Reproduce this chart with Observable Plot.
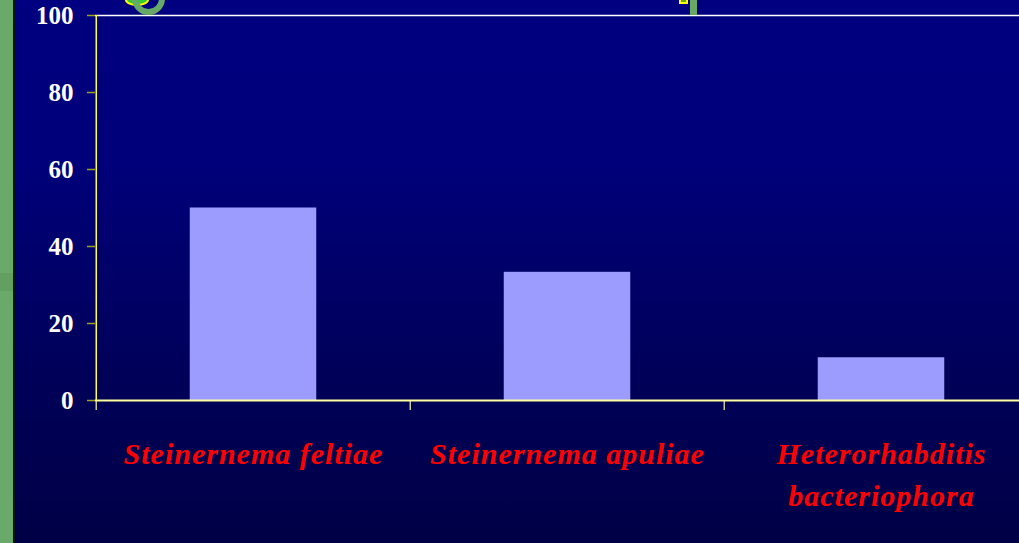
<!DOCTYPE html>
<html>
<head>
<meta charset="utf-8">
<script src="https://cdn.jsdelivr.net/npm/d3@7"></script>
<script src="https://cdn.jsdelivr.net/npm/@observablehq/plot@0.6"></script>
<style>
  html, body { margin: 0; padding: 0; }
  #slide {
    position: relative;
    width: 1019px;
    height: 543px;
    overflow: hidden;
    background: linear-gradient(to bottom, #000080 0%, #00007a 30%, #000058 70%, #000046 100%);
  }
  #strip { position: absolute; left: 0; top: 0; width: 13px; height: 543px; background: #69a969; border-right: 2px solid #0a1a0a; }
  #strip .band { position: absolute; left: 0; top: 273px; width: 13px; height: 18px; background: #62a062; }
  .deco { position: absolute; }
  #chart svg { display: block; background: transparent; }
  #chart svg text { font-family: 'Liberation Serif', 'Times New Roman', serif; }
  #chart svg g[aria-label="x-axis tick label"] text { letter-spacing: 1px; }
</style>
</head>
<body>
<div id="slide">
  <div id="chart"></div>
  <div id="strip"><div class="band"></div></div>
  <!-- fragments of the slide heading above the chart -->
  <div class="deco" style="left:125px;top:-6px;width:20px;height:8px;border-radius:50%;background:#33cc33;border:2px solid #ffff00;"></div>
  <div class="deco" style="left:132px;top:-18px;width:21px;height:21px;border-radius:50%;border:6px solid #66aa66;"></div>
  <div class="deco" style="left:690px;top:0;width:7px;height:15px;background:#66aa66;"></div>
  <div class="deco" style="left:679px;top:-4px;width:5px;height:4px;background:#66aa00;border:2px solid #ffff00;"></div>
</div>
<script>
// Share of infected larvae per nematode species (%)
const species = ["Steinernema feltiae", "Steinernema apuliae", "Heterorhabditis bacteriophora"];
const speciesLines = ["Steinernema feltiae", "Steinernema apuliae", "Heterorhabditis\nbacteriophora"];
const values = [50, 33.3, 11.1];
const yTicks = [0, 20, 40, 60, 80, 100];

const data = species.map((s, i) => ({species: s, value: values[i]}));
const lineLabel = new Map(species.map((s, i) => [s, speciesLines[i]]));

const xRange = [95, 1038.5];
const step = (xRange[1] - xRange[0]) / species.length;
const barWidth = 127;
const inset = (step - barWidth) / 2;

const serif = "'Liberation Serif', 'Times New Roman', serif";

const chart = Plot.plot({
  width: 1019,
  height: 543,
  marginTop: 15,
  marginBottom: 143,
  marginLeft: 95,
  marginRight: 0,
  style: {background: "transparent", overflow: "visible", fontFamily: serif},
  x: {type: "band", domain: species, range: xRange, padding: 0},
  y: {domain: [0, 100], range: [400, 15]},
  marks: [
    // top border of the plot area
    Plot.ruleY([100], {stroke: "#ffffff", strokeWidth: 1.5}),
    Plot.barY(data, {x: "species", y: "value", fill: "#9c9cff", insetLeft: inset, insetRight: inset}),
    // category boundary ticks under the baseline
    Plot.ruleX(species, {x: d => d, dx: -step / 2, y1: 0, y2: 0, insetBottom: -10, stroke: "#c8c890", strokeWidth: 1.5}),
    // value axis line
    Plot.ruleX([species[0]], {x: d => d, dx: -step / 2, stroke: "#ffff33", strokeWidth: 1.5}),
    // baseline
    Plot.ruleY([0], {stroke: "#ffffa0", strokeWidth: 2}),
    Plot.axisY({
      ticks: yTicks,
      tickSize: 8,
      tickPadding: 14,
      stroke: "#a0a020",
      strokeWidth: 1.5,
      fill: "#ffffff",
      fontSize: 25,
      fontWeight: "bold",
      label: null
    }),
    Plot.axisX({
      tickSize: 0,
      tickPadding: 34,
      lineAnchor: "top",
      lineHeight: 1.4,
      tickFormat: d => lineLabel.get(d),
      fill: "#ff0000",
      fontSize: 30,
      fontWeight: "bold",
      fontStyle: "italic",
      label: null
    })
  ]
});

document.getElementById("chart").append(chart);
</script>
</body>
</html>
